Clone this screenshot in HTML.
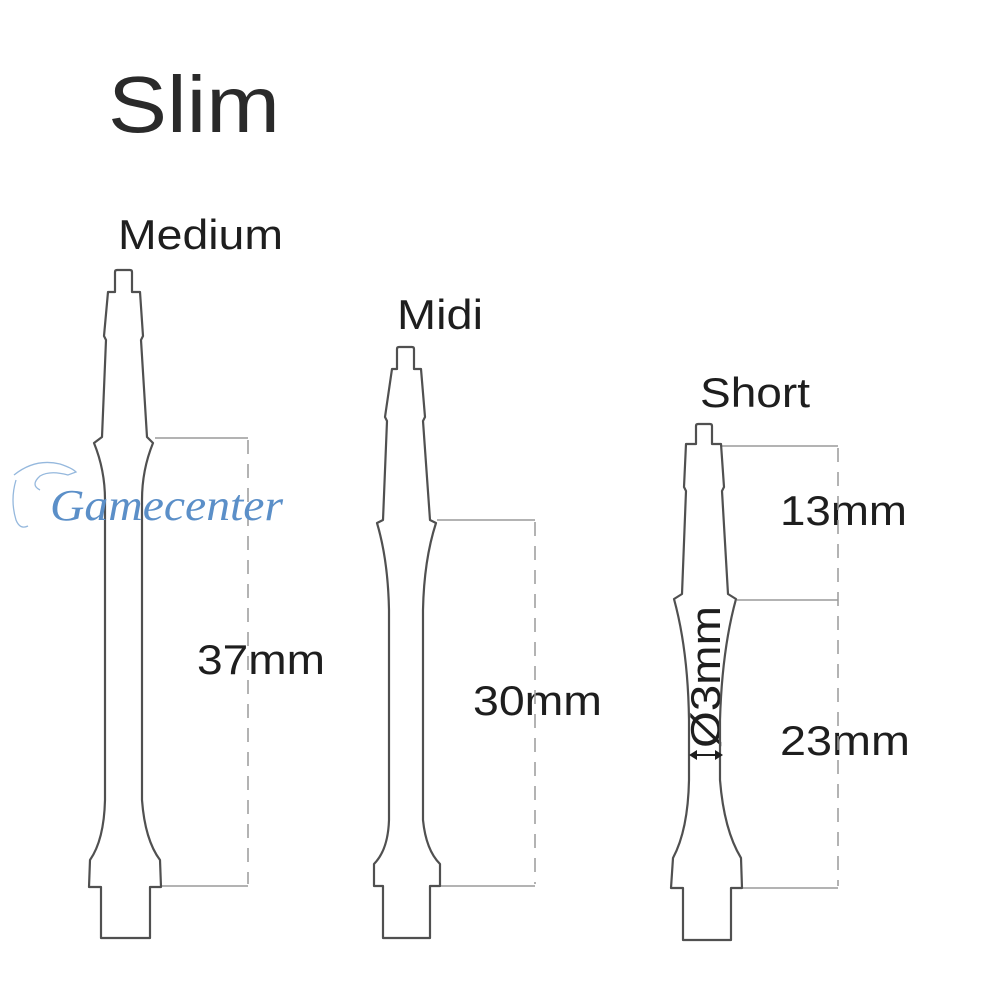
<!DOCTYPE html>
<html><head><meta charset="utf-8"><style>
html,body{margin:0;padding:0;background:#fff}
svg{display:block}
</style></head><body>
<svg width="1000" height="1000" viewBox="0 0 1000 1000" xmlns="http://www.w3.org/2000/svg">
<rect width="1000" height="1000" fill="#fff"/>
<text x="108" y="132" font-family="Liberation Sans, sans-serif" font-size="80" fill="#2a2a2a" textLength="172" lengthAdjust="spacingAndGlyphs">Slim</text>
<g font-family="Liberation Sans, sans-serif" font-size="42" fill="#1e1e1e">
<text x="118" y="249" textLength="165" lengthAdjust="spacingAndGlyphs">Medium</text>
<text x="397" y="329" textLength="86" lengthAdjust="spacingAndGlyphs">Midi</text>
<text x="700" y="407" textLength="110" lengthAdjust="spacingAndGlyphs">Short</text>
<text x="197" y="674" textLength="128" lengthAdjust="spacingAndGlyphs">37mm</text>
<text x="473" y="715" textLength="129" lengthAdjust="spacingAndGlyphs">30mm</text>
<text x="780" y="525" textLength="127" lengthAdjust="spacingAndGlyphs">13mm</text>
<text x="780" y="755" textLength="130" lengthAdjust="spacingAndGlyphs">23mm</text>
<text transform="translate(720,748) rotate(-90)" x="0" y="0" textLength="142" lengthAdjust="spacingAndGlyphs">Ø3mm</text>
</g>
<!-- dimension lines -->
<g stroke="#9a9a9a" stroke-width="1.5" fill="none">
<path d="M155 438H248M162 886H248M437 520H535M440 886H535M722 446H838M737 600H838M742 888H838"/>
<path d="M248 440V884M535 522V884M838 448V886" stroke-dasharray="14 10"/>
</g>
<!-- shafts -->
<g stroke="#505050" stroke-width="2.2" fill="none" stroke-linejoin="round">
<path d="M115,292 L115,272 Q115,270 117,270 L130,270 Q132,270 132,272 L132,292 L140,292 L143,336 L141,340 L147,437 L153,443 Q142,470 142,500 L142,800 Q145,840 160,860 L161,887 L150,887 L150,938 L101,938 L101,887 L89,887 L90,860 Q104,840 105,800 L105,500 Q105,470 94,443 L102,437 L106,340 L104,336 L108,292 Z"/>
<path d="M397,369 L397,349 Q397,347 399,347 L412,347 Q414,347 414,349 L414,369 L421,369 L425,417 L423,421 L430,520 L436,523 Q424,560 423,610 L423,820 Q426,850 440,864 L440,886 L430,886 L430,938 L383,938 L383,886 L374,886 L374,864 Q388,850 389,820 L389,610 Q388,560 377,523 L383,520 L387,421 L385,417 L392,369 Z"/>
<path d="M696,444 L696,426 Q696,424 698,424 L710,424 Q712,424 712,426 L712,444 L721,444 L724,487 L722,491 L728,594 L736,599 Q722,650 720,720 L720,780 Q724,830 741,858 L742,888 L731,888 L731,940 L683,940 L683,888 L671,888 L673,858 Q688,830 689,780 L689,720 Q688,650 674,599 L682,594 L686,491 L684,487 L686,444 Z"/>
</g>
<!-- diameter arrow -->
<g stroke="#1e1e1e" stroke-width="2" fill="#1e1e1e">
<path d="M694 755H718"/>
<path d="M689 755L697 750L697 760Z M723 755L715 750L715 760Z" stroke="none"/>
</g>
<!-- watermark -->
<g fill="none" stroke="#7aa6d4" stroke-width="1.3" opacity="0.8">
<path d="M14,475 Q35,458 60,464 Q72,468 76,472 L68,475 Q50,470 40,476 Q30,485 40,490 M16,480 Q10,500 16,520 Q20,530 28,526"/>
</g>
<text x="50" y="520" font-family="Liberation Serif, serif" font-style="italic" font-size="44" fill="#5b8fc8" textLength="233" lengthAdjust="spacingAndGlyphs">Gamecenter</text>
</svg>
</body></html>
